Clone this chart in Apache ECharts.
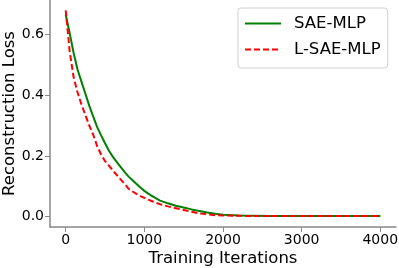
<!DOCTYPE html>
<html>
<head>
<meta charset="utf-8">
<script src="https://cdn.jsdelivr.net/npm/echarts@6/dist/echarts.min.js"></script>
<style>
html,body{margin:0;padding:0;background:#fff;}
#c{width:399px;height:268px;}
</style>
</head>
<body>
<div id="c"></div>
<script>
const iterations = [0,50,100,150,200,250,300,350,400,450,500,550,600,650,700,750,800,850,900,950,1000,1050,1100,1150,1200,1300,1400,1500,1600,1700,1800,1900,2000,2200,2400,2600,2800,3000,3200,3400,3600,3800,4000];
const saeMlp = [0.666,0.605,0.54,0.485,0.445,0.405,0.365,0.33,0.295,0.268,0.242,0.217,0.197,0.18,0.163,0.147,0.132,0.12,0.108,0.096,0.085,0.076,0.068,0.06,0.053,0.044,0.036,0.03,0.024,0.019,0.014,0.01,0.006,0.004,0.003,0.002,0.002,0.002,0.002,0.002,0.002,0.002,0.002];
const lSaeMlp = [0.68,0.545,0.46,0.41,0.37,0.335,0.30,0.27,0.232,0.205,0.183,0.168,0.152,0.137,0.122,0.108,0.092,0.083,0.075,0.068,0.062,0.056,0.051,0.046,0.041,0.034,0.028,0.022,0.016,0.011,0.008,0.005,0.004,0.003,0.002,0.002,0.002,0.002,0.002,0.002,0.002,0.002,0.002];
const xTicks = [0,1000,2000,3000,4000];
const yTicks = [0,0.2,0.4,0.6];

const font = 'DejaVu Sans';
const chart = echarts.init(document.getElementById('c'), null, {renderer:'canvas'});
chart.setOption({
  animation:false,
  backgroundColor:'#fff',
  grid:{left:50,right:3,top:0,bottom:41,containLabel:false,outerBoundsMode:'none'},
  legend:{
    orient:'vertical', left:238, top:8,
    padding:[7,7,10,6], itemGap:9, itemWidth:36, itemHeight:14,
    borderColor:'#d0d0d0', borderWidth:1, borderRadius:3, backgroundColor:'#fff',
    itemStyle:{opacity:0},
    textStyle:{fontFamily:font,fontSize:16.5,color:'#000',padding:[0,0,0,8]},
    data:['SAE-MLP','L-SAE-MLP']
  },
  xAxis:{
    type:'value', min:-200, max:4200,
    name:'Training Iterations', nameLocation:'middle', nameGap:23, nameMoveOverlap:false,
    nameTextStyle:{fontFamily:font,fontSize:16.5,color:'#000'},
    axisLine:{show:true,onZero:false,lineStyle:{color:'#888',width:1.5}},
    axisTick:{show:true,length:5,lineStyle:{color:'#888',width:1},customValues:xTicks},
    axisLabel:{fontFamily:font,fontSize:14,color:'#000',margin:6,customValues:xTicks,formatter:v=>String(Math.round(v))},
    splitLine:{show:false}
  },
  yAxis:{
    type:'value', min:-0.034, max:0.714,
    name:'Reconstruction Loss', nameLocation:'middle', nameGap:32, nameRotate:90, nameMoveOverlap:false,
    nameTextStyle:{fontFamily:font,fontSize:16.5,color:'#000'},
    axisLine:{show:true,onZero:false,lineStyle:{color:'#888',width:1.5}},
    axisTick:{show:true,length:5,lineStyle:{color:'#888',width:1},customValues:yTicks},
    axisLabel:{fontFamily:font,fontSize:14,color:'#000',margin:6,customValues:yTicks,formatter:v=>v.toFixed(1)},
    splitLine:{show:false}
  },
  series:[
    {name:'SAE-MLP',type:'line',showSymbol:false,symbol:'none',
     data:iterations.map((x,i)=>[x,saeMlp[i]]),
     lineStyle:{color:'#008000',width:2},itemStyle:{color:'#008000'}},
    {name:'L-SAE-MLP',type:'line',showSymbol:false,symbol:'none',
     data:iterations.map((x,i)=>[x,lSaeMlp[i]]),
     lineStyle:{color:'#ff0000',width:2,type:[6,3]},itemStyle:{color:'#ff0000'}}
  ]
});
</script>
</body>
</html>
